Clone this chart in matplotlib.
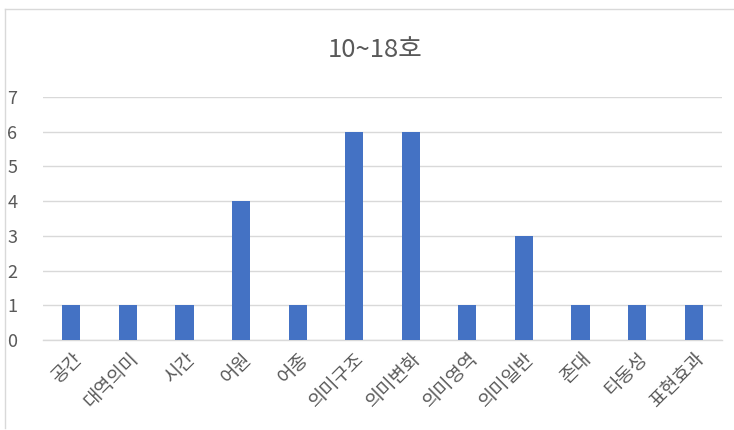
import matplotlib
matplotlib.use("Agg")
import matplotlib.pyplot as plt
from matplotlib.lines import Line2D

plt.rcParams['font.family'] = ['Noto Sans CJK KR', 'DejaVu Sans']

categories = ['공간', '대역의미', '시간', '어원', '어종', '의미구조', '의미변화',
              '의미영역', '의미일반', '존대', '타동성', '표현효과']
counts = [1, 1, 1, 4, 1, 6, 6, 1, 3, 1, 1, 1]
title = '10~18호'

text_color = '#595959'
grid_color = '#D9D9D9'
bar_color = '#4472C4'

fig = plt.figure(figsize=(7.34, 4.30), dpi=100)
ax = fig.add_axes([43 / 734, 1 - 340 / 430, (722 - 43) / 734, (340 - 97) / 430])

x = list(range(len(categories)))
ax.bar(x, counts, width=0.32, color=bar_color, zorder=3)

ax.set_xlim(-0.5, len(categories) - 0.5)
ax.set_ylim(0, 7)
ax.set_yticks(range(0, 8))
ax.yaxis.grid(True, color=grid_color, linewidth=1.0, zorder=0)
for side in ['top', 'right', 'left']:
    ax.spines[side].set_visible(False)
ax.spines['bottom'].set_color(grid_color)
ax.spines['bottom'].set_linewidth(1.0)

ax.tick_params(axis='y', length=0, pad=22, labelsize=13, labelcolor=text_color)
ax.tick_params(axis='x', length=0, pad=6, labelsize=13.5, labelcolor=text_color)
for lbl in ax.get_yticklabels():
    lbl.set_horizontalalignment('center')
ax.set_xticks(x)
ax.set_xticklabels(categories, rotation=45, ha='right', va='top',
                   rotation_mode='anchor')

fig.text(375 / 734, 1 - 50 / 430, title, ha='center', va='center',
         fontsize=18.5, color=text_color)

# chart frame (top and left edges)
fig.add_artist(Line2D([4.5 / 734, 1.0], [1 - 9 / 430, 1 - 9 / 430],
                      transform=fig.transFigure, color='#D9D9D9', linewidth=1))
fig.add_artist(Line2D([4.5 / 734, 4.5 / 734], [1 - 9 / 430, 1 - 428 / 430],
                      transform=fig.transFigure, color='#D9D9D9', linewidth=1))

fig.savefig('out.png', dpi=100)
